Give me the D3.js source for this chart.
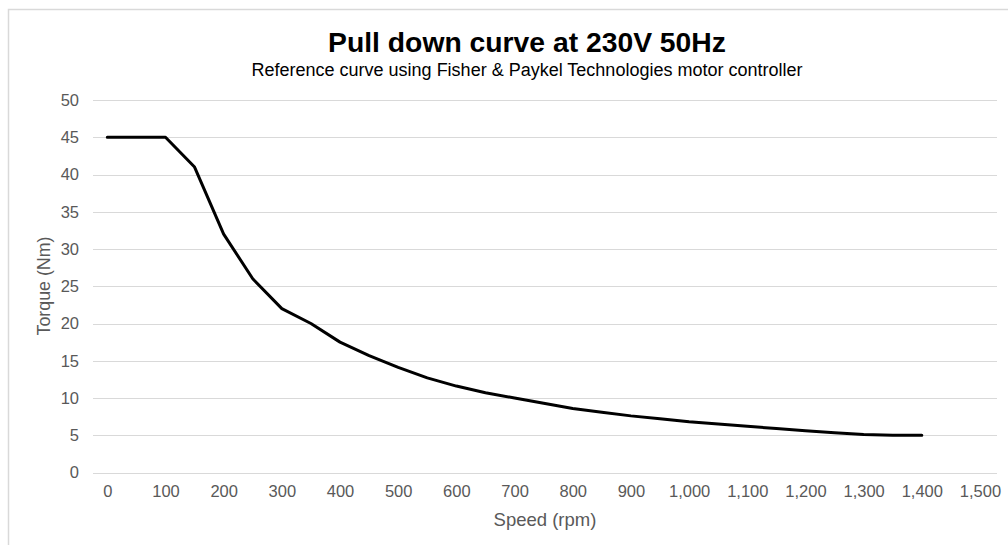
<!DOCTYPE html>
<html>
<head>
<meta charset="utf-8">
<script src="https://cdn.jsdelivr.net/npm/d3@7"></script>
<style>
  body { margin: 0; background: #fff; }
  svg { display: block; font-family: "Liberation Sans", Arial, sans-serif; }
</style>
</head>
<body>
<div class="chart"></div>
<script>
'use strict';

// data
var speed  = [0, 100, 150, 200, 250, 300, 350, 400, 450, 500, 550, 600, 650, 700, 750, 800,
              850, 900, 950, 1000, 1050, 1100, 1150, 1200, 1250, 1300, 1350, 1400];
var torque = [45, 45, 41, 32, 26, 22, 20, 17.5, 15.7, 14.1, 12.7, 11.6, 10.7, 10.0, 9.3, 8.6,
              8.1, 7.6, 7.2, 6.8, 6.5, 6.2, 5.9, 5.6, 5.35, 5.1, 5.0, 5.0];
var xTicks = d3.range(0, 1501, 100);
var yTicks = d3.range(0, 51, 5);

var width = 1008, height = 545;
var gridLeft = 93, gridRight = 997;

var svg = d3.select('.chart').append('svg')
    .attr('width', width)
    .attr('height', height);

// chart frame
svg.append('path')
    .attr('d', 'M8.5,' + height + 'V9.5H' + width)
    .attr('fill', 'none')
    .attr('stroke', '#d9d9d9')
    .attr('stroke-width', 1.5);

var x = d3.scaleLinear().domain([0, 1500]).range([107.3, 980]);
var y = d3.scaleLinear().domain([0, 50]).range([472.5, 100]);

// gridlines
svg.append('g')
    .selectAll('line')
    .data(yTicks)
    .join('line')
    .attr('x1', gridLeft)
    .attr('x2', gridRight)
    .attr('y1', function(d){ return Math.round(y(d)) + 0.5; })
    .attr('y2', function(d){ return Math.round(y(d)) + 0.5; })
    .attr('stroke', '#d9d9d9')
    .attr('stroke-width', 1);

// y tick labels
var yAxis = svg.append('g')
    .attr('transform', 'translate(' + (gridLeft - 14) + ',0)')
    .call(d3.axisLeft(y).tickValues(yTicks).tickSize(0).tickPadding(0));
yAxis.select('.domain').remove();
yAxis.selectAll('text')
    .attr('fill', '#595959')
    .style('font-size', '16.5px')
    .style('font-family', '"Liberation Sans", Arial, sans-serif');

// x tick labels
var xAxis = svg.append('g')
    .attr('transform', 'translate(0,' + (y(0) + 13) + ')')
    .call(d3.axisBottom(x).tickValues(xTicks).tickSize(0).tickPadding(0).tickFormat(d3.format(',')));
xAxis.select('.domain').remove();
xAxis.selectAll('text')
    .attr('fill', '#595959')
    .style('font-size', '16.5px')
    .style('font-family', '"Liberation Sans", Arial, sans-serif');

// curve
var line = d3.line()
    .x(function(d, i){ return x(speed[i]); })
    .y(function(d){ return y(d); });

svg.append('path')
    .datum(torque)
    .attr('d', line)
    .attr('fill', 'none')
    .attr('stroke', '#000')
    .attr('stroke-width', 3)
    .attr('stroke-linejoin', 'round')
    .attr('stroke-linecap', 'round');

// titles
svg.append('text')
    .attr('x', 527)
    .attr('y', 52)
    .attr('text-anchor', 'middle')
    .style('font-size', '28.3px')
    .style('font-weight', 'bold')
    .attr('fill', '#000')
    .text('Pull down curve at 230V 50Hz');

svg.append('text')
    .attr('x', 527)
    .attr('y', 76)
    .attr('text-anchor', 'middle')
    .style('font-size', '18px')
    .attr('fill', '#000')
    .text('Reference curve using Fisher & Paykel Technologies motor controller');

svg.append('text')
    .attr('x', 545)
    .attr('y', 526)
    .attr('text-anchor', 'middle')
    .style('font-size', '18.5px')
    .attr('fill', '#595959')
    .text('Speed (rpm)');

svg.append('text')
    .attr('transform', 'translate(50,286) rotate(-90)')
    .attr('text-anchor', 'middle')
    .style('font-size', '17.8px')
    .attr('fill', '#595959')
    .text('Torque (Nm)');
</script>
</body>
</html>
